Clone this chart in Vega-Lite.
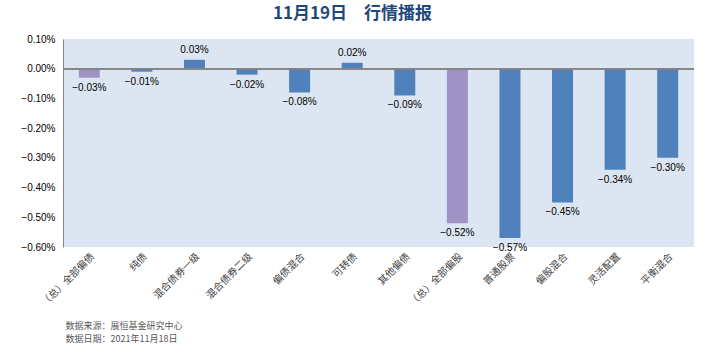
{
  "$schema": "https://vega.github.io/schema/vega-lite/v6.json",
  "width": 631,
  "height": 208,
  "autosize": {"type": "none"},
  "padding": {"left": 63, "top": 39, "right": 31, "bottom": 105},
  "background": "#ffffff",
  "title": {
    "text": "11月19日　行情播报",
    "anchor": "middle",
    "dx": -26,
    "offset": 11,
    "font": "Noto Sans CJK SC",
    "fontSize": 17,
    "fontWeight": "bold",
    "color": "#1F497D"
  },
  "data": {
    "values": [
      {"name": "（总）全部偏债", "value": -0.0003, "group": "总"},
      {"name": "纯债", "value": -0.0001, "group": "分类"},
      {"name": "混合债券一级", "value": 0.0003, "group": "分类"},
      {"name": "混合债券二级", "value": -0.0002, "group": "分类"},
      {"name": "偏债混合", "value": -0.0008, "group": "分类"},
      {"name": "可转债", "value": 0.0002, "group": "分类"},
      {"name": "其他偏债", "value": -0.0009, "group": "分类"},
      {"name": "（总）全部偏股", "value": -0.0052, "group": "总"},
      {"name": "普通股票", "value": -0.0057, "group": "分类"},
      {"name": "偏股混合", "value": -0.0045, "group": "分类"},
      {"name": "灵活配置", "value": -0.0034, "group": "分类"},
      {"name": "平衡混合", "value": -0.0030, "group": "分类"}
    ]
  },
  "config": {
    "view": {"fill": "#DCE6F2", "stroke": null},
    "font": "Noto Sans CJK SC"
  },
  "encoding": {
    "x": {
      "field": "name",
      "type": "nominal",
      "sort": null,
      "scale": {"paddingInner": 0, "paddingOuter": 0},
      "axis": {
        "title": ["数据来源：展恒基金研究中心", "数据日期：2021年11月18日"],
        "titleFont": "Noto Sans CJK SC",
        "titleFontSize": 9,
        "titleFontWeight": "normal",
        "titleColor": "#595959",
        "titleAnchor": "start",
        "titleAlign": "left",
        "titleBaseline": "top",
        "titleX": 2,
        "titleY": 74,
        "titleLineHeight": 13,
        "labelAngle": -45,
        "labelFont": "Noto Sans CJK SC",
        "labelFontSize": 10,
        "labelColor": "#404040",
        "labelPadding": 4,
        "ticks": false,
        "domain": false,
        "orient": "bottom"
      }
    },
    "y": {
      "field": "value",
      "type": "quantitative",
      "scale": {"domain": [-0.006, 0.001], "nice": false},
      "axis": {
        "title": null,
        "format": ".2%",
        "values": [0.001, 0, -0.001, -0.002, -0.003, -0.004, -0.005, -0.006],
        "grid": false,
        "ticks": false,
        "labelFont": "Liberation Sans",
        "labelFontSize": 10,
        "labelColor": "#000000",
        "labelPadding": 8,
        "domainColor": "#868686"
      }
    }
  },
  "layer": [
    {
      "mark": {"type": "bar", "size": 21},
      "encoding": {
        "color": {
          "field": "group",
          "type": "nominal",
          "scale": {"domain": ["总", "分类"], "range": ["#A093C6", "#4F81BD"]},
          "legend": null
        }
      }
    },
    {
      "mark": {"type": "rule", "color": "#868686"},
      "encoding": {"y": {"datum": 0}, "x": null}
    },
    {
      "transform": [{"filter": "datum.value < 0"}],
      "mark": {"type": "text", "fontSize": 10, "font": "Liberation Sans", "color": "#000000", "baseline": "top", "dy": 5},
      "encoding": {
        "text": {"field": "value", "type": "quantitative", "format": ".2%"}
      }
    },
    {
      "transform": [{"filter": "datum.value >= 0"}],
      "mark": {"type": "text", "fontSize": 10, "font": "Liberation Sans", "color": "#000000", "baseline": "bottom", "dy": -5},
      "encoding": {
        "text": {"field": "value", "type": "quantitative", "format": ".2%"}
      }
    }
  ]
}
